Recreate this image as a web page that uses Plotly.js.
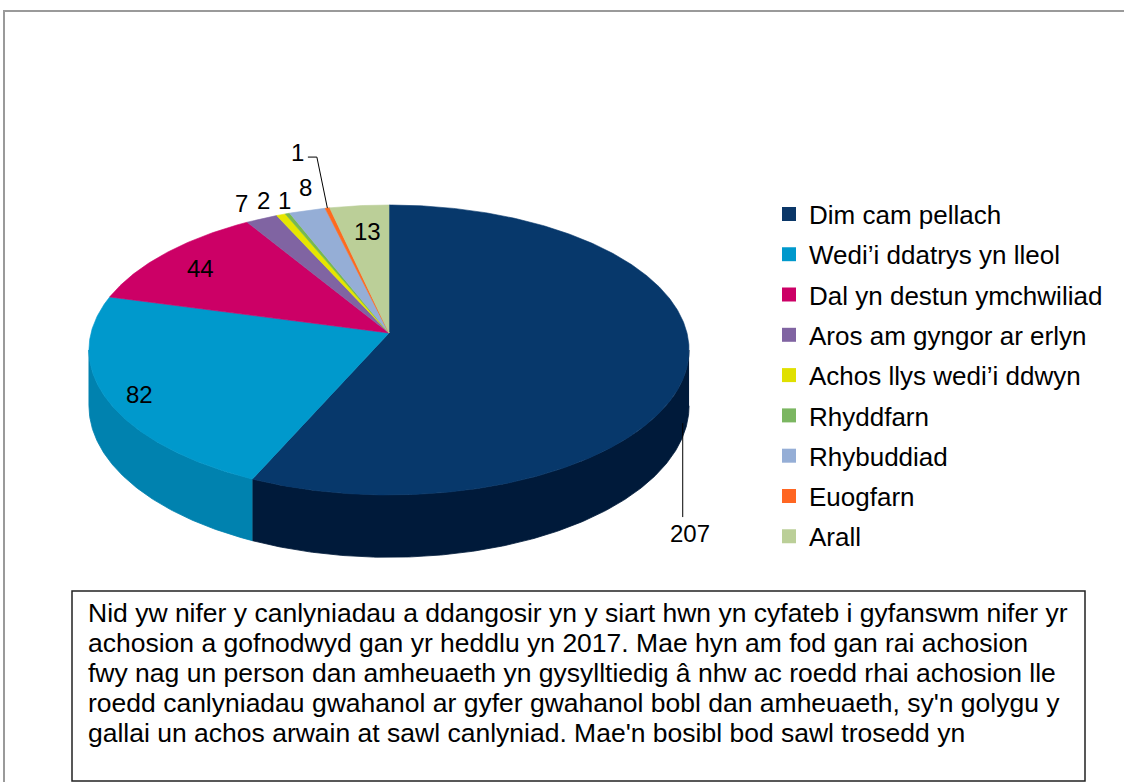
<!DOCTYPE html>
<html><head><meta charset="utf-8">
<script src="https://cdn.plot.ly/plotly-3.0.1.min.js"></script>
<style>html,body{margin:0;padding:0;background:#fff;overflow:hidden}#chart{width:1124px;height:782px;}</style>
</head><body><div id="chart"></div>
<script>
// ---------- data ----------
const categories = ["Dim cam pellach", "Wedi\u2019i ddatrys yn lleol", "Dal yn destun ymchwiliad", "Aros am gyngor ar erlyn", "Achos llys wedi\u2019i ddwyn", "Rhyddfarn", "Rhybuddiad", "Euogfarn", "Arall"];
const values = [207, 82, 44, 7, 2, 1, 8, 1, 13];
const noteLines = [
  "Nid yw nifer y canlyniadau a ddangosir yn y siart hwn yn cyfateb i gyfanswm nifer yr",
  "achosion a gofnodwyd gan yr heddlu yn 2017. Mae hyn am fod gan rai achosion",
  "fwy nag un person dan amheuaeth yn gysylltiedig \u00e2 nhw ac roedd rhai achosion lle",
  "roedd canlyniadau gwahanol ar gyfer gwahanol bobl dan amheuaeth, sy'n golygu y",
  "gallai un achos arwain at sawl canlyniad. Mae'n bosibl bod sawl trosedd yn"
];

// ---------- styles ----------
const topColors  = ["#07386B", "#0099CC", "#CC0066", "#8064A2", "#E6E600", "#77B850", "#95AED6", "#FF6A1F", "#BBCF98"];
const sideColors = ["#001A3A", "#0082AF", "#A80054", "#6A5289", "#BFBF00", "#5E9A3E", "#7A93B8", "#D9561A", "#9CB07E"];
const legendColors = ["#0B3768", "#0099CC", "#CC0066", "#8064A2", "#E0E000", "#7BB661", "#95AED6", "#FF6622", "#BBCF98"];
// label placement: radial factor on the rim and pixel nudges
const labelR  = [1, 0.88, 0.8, 1, 1, 1, 1, 1, 0.75];
const labelDX = [0, -2, -8, -20, -17, -3, -2, 0, 1];
const labelDY = [0, 5, 0, -15, -14, -13, -23, 0, -3];

const W = 1124, H = 782;
const CX = 389, CY = 333, RA = 298, RB = 143, PK = 0.1172, DEPTH = 55;
const FONT = "Liberation Sans, Arial, sans-serif";

function proj(t, r) {
  const u = r * Math.sin(t), v = r * Math.cos(t), den = 1 + PK * v;
  return {x: CX + RA * u / den, y: CY - RB * v / den, drop: DEPTH / den};
}
const total = values.reduce((a, b) => a + b, 0);
const starts = [], ends = [];
let acc = 0;
values.forEach(v => { starts.push(acc / total * 2 * Math.PI); acc += v; ends.push(acc / total * 2 * Math.PI); });
function arc(t0, t1) {
  const n = Math.max(2, Math.ceil((t1 - t0) / (Math.PI / 360)));
  const pts = [];
  for (let i = 0; i <= n; i++) pts.push(proj(t0 + (t1 - t0) * i / n, 1));
  return pts;
}

const traces = [];
// side walls (front half only)
const wallA = Math.acos(-PK), wallB = 2 * Math.PI - Math.acos(-PK);
values.forEach((v, i) => {
  const s0 = Math.max(starts[i], wallA), s1 = Math.min(ends[i], wallB);
  if (s1 > s0) {
    const top = arc(s0, s1), rev = top.slice().reverse();
    traces.push({type: 'scatter', mode: 'lines', fill: 'toself',
      x: top.map(p => p.x).concat(rev.map(p => p.x)),
      y: top.map(p => p.y).concat(rev.map(p => p.y + p.drop)),
      fillcolor: sideColors[i], line: {color: sideColors[i], width: 0.8},
      hoverinfo: 'skip', showlegend: false});
  }
});
// top faces
values.forEach((v, i) => {
  const pts = arc(starts[i], ends[i]);
  traces.push({type: 'scatter', mode: 'lines', fill: 'toself',
    x: [CX].concat(pts.map(p => p.x), [CX]),
    y: [CY].concat(pts.map(p => p.y), [CY]),
    fillcolor: topColors[i], line: {color: topColors[i], width: 0.6},
    name: categories[i], text: String(v), hoverinfo: 'name+text', showlegend: false});
});

// labels & leader lines
const annotations = [];
values.forEach((v, i) => {
  const mid = (starts[i] + ends[i]) / 2;
  const p = proj(mid, labelR[i]);
  let x = p.x + labelDX[i], y = p.y + labelDY[i];
  if (i === 0) {
    const by = p.y + p.drop;
    traces.push({type: 'scatter', mode: 'lines', x: [p.x - 5, p.x - 5], y: [by + 3, by + 97],
      line: {color: '#000', width: 1}, hoverinfo: 'skip', showlegend: false});
    x = p.x + 2; y = by + 113;
  }
  if (i === 7) {
    traces.push({type: 'scatter', mode: 'lines', x: [p.x, p.x - 10.5, p.x - 19.5], y: [p.y, p.y - 51, p.y - 51],
      line: {color: '#000', width: 1}, hoverinfo: 'skip', showlegend: false});
    x = p.x - 29.5; y = p.y - 56;
  }
  annotations.push({x: x, y: y, xref: 'x', yref: 'y', text: String(v), showarrow: false,
    xanchor: 'center', yanchor: 'middle', font: {family: FONT, size: 24, color: '#000'}});
});
// note text lines
noteLines.forEach((t, i) => {
  annotations.push({x: 86, y: 613 + i * 30, xref: 'x', yref: 'y', text: t, showarrow: false,
    xanchor: 'left', yanchor: 'middle', font: {family: FONT, size: 26.5, color: '#000'}});
});

// legend entries
categories.forEach((c, i) => {
  traces.push({type: 'scatter', mode: 'markers', x: [null], y: [null], name: c,
    legendgroup: 'g' + i, showlegend: true, hoverinfo: 'skip',
    marker: {symbol: 'square', size: 14, color: legendColors[i]}});
});

const layout = {
  width: W, height: H,
  margin: {l: 0, r: 0, t: 0, b: 0},
  paper_bgcolor: '#fff', plot_bgcolor: '#fff',
  xaxis: {range: [0, W], visible: false, fixedrange: true},
  yaxis: {range: [H, 0], visible: false, fixedrange: true},
  showlegend: true,
  legend: {x: 769 / W, y: 1 - 190.5 / H, xanchor: 'left', yanchor: 'top',
    font: {family: FONT, size: 26, color: '#000'}, traceorder: 'grouped', tracegroupgap: 3.5,
    bgcolor: 'rgba(0,0,0,0)', borderwidth: 0},
  shapes: [
    {type: 'rect', xref: 'x', yref: 'y', x0: 4, y0: 11, x1: 1135, y1: 800, line: {color: '#9a9a9a', width: 2}, layer: 'below'},
    {type: 'rect', xref: 'x', yref: 'y', x0: 72, y0: 591, x1: 1085, y1: 781, line: {color: '#222', width: 1.5}, fillcolor: '#fff', layer: 'below'}
  ],
  annotations: annotations,
  hovermode: 'closest'
};
Plotly.newPlot('chart', traces, layout, {displayModeBar: false, staticPlot: false});
</script></body></html>
